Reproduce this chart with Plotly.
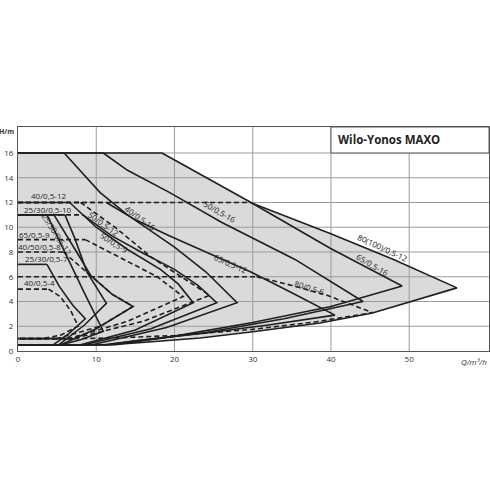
import plotly.graph_objects as go

x_ticks = [0, 10, 20, 30, 40, 50]
y_ticks = [0, 2, 4, 6, 8, 10, 12, 14, 16]
x_max = 60.2
y_max = 18.1
box_q = 40
box_h = 16

# each pump: max curve (from end of top line to tip), return curve (tip -> low end)
p25_7_q = [3.7, 5.3, 7.0, 8.6]
p25_7_h = [7.0, 5.2, 3.7, 2.6]
p25_7_rq = [8.6, 6.5, 4.5]
p25_7_rh = [2.6, 1.4, 0.5]

p40_4_q = [3.9, 5.4, 6.7, 7.7]
p40_4_h = [5.0, 4.4, 3.3, 2.0]
p40_4_rq = [7.7, 5.5, 3.2]
p40_4_rh = [2.0, 1.3, 1.0]

p25_10_q = [3.7, 4.9, 5.8, 8.4, 10.9]
p25_10_h = [11.0, 9.4, 8.2, 4.8, 1.6]
p25_10_rq = [10.9, 8.0, 5.5]
p25_10_rh = [1.6, 0.9, 0.5]

p25_12_q = [4.6, 6.0, 7.3, 9.3, 12.0, 14.7]
p25_12_h = [11.0, 9.6, 8.2, 6.1, 4.6, 3.6]
p25_12_rq = [14.7, 10.0, 5.5]
p25_12_rh = [3.6, 1.8, 0.5]

pD_q = [6.0, 7.2, 8.8, 11.3]
pD_h = [11.0, 9.2, 6.4, 3.85]
pD_rq = [11.3, 8.5, 5.2]
pD_rh = [3.85, 2.1, 0.5]

p40_8_q = [5.8, 7.6, 9.3, 12.0, 14.7]
p40_8_h = [8.0, 7.0, 6.1, 4.6, 3.6]
p40_8_rq = [14.7, 10.5, 5.0]
p40_8_rh = [3.6, 2.0, 1.0]

p50_9_q = [8.6, 12.0, 17.8, 21.1]
p50_9_h = [9.0, 7.9, 6.0, 4.4]
p50_9_rq = [21.1, 14.0, 6.5]
p50_9_rh = [4.4, 2.4, 1.0]

p40_12_q = [8.0, 12.4, 17.0, 21.1, 24.5]
p40_12_h = [12.0, 10.0, 7.6, 5.9, 4.5]
p40_12_rq = [24.5, 16.0, 7.0]
p40_12_rh = [4.5, 2.4, 1.0]

p50_12_q = [6.6, 10.0, 14.0, 18.2, 20.5, 22.4]
p50_12_h = [12.0, 10.0, 8.2, 6.6, 5.4, 3.9]
p50_12_rq = [22.4, 15.0, 8.0]
p50_12_rh = [3.9, 1.7, 0.5]

pX_q = [8.3, 12.0, 16.0, 20.0, 23.0, 25.4]
pX_h = [11.0, 9.3, 7.9, 6.6, 5.3, 3.9]
pX_rq = [25.4, 17.0, 8.5]
pX_rh = [3.9, 1.8, 0.5]

p40_16_q = [5.9, 8.2, 10.5, 14.0, 20.0, 24.0, 28.0]
p40_16_h = [16.0, 14.4, 12.8, 11.0, 8.4, 6.4, 3.9]
p40_16_rq = [28.0, 19.0, 9.5]
p40_16_rh = [3.9, 1.9, 0.5]

p65_12_q = [11.3, 15.0, 19.4, 29.7, 35.0, 40.5]
p65_12_h = [12.0, 10.6, 9.3, 6.4, 4.7, 2.9]
p65_12_rq = [40.5, 32.0, 24.0, 16.0, 11.0]
p65_12_rh = [2.9, 2.1, 1.45, 0.9, 0.5]

p50_16_q = [10.9, 14.0, 19.4, 26.0, 35.4, 44.1]
p50_16_h = [16.0, 14.6, 12.8, 10.4, 7.4, 4.0]
p50_16_rq = [44.1, 34.0, 24.0, 15.0, 11.5]
p50_16_rh = [4.0, 2.6, 1.5, 0.8, 0.5]

p65_16_q = [18.4, 29.5, 39.9, 49.1]
p65_16_h = [16.0, 12.1, 8.3, 5.25]
p65_16_rq = [49.1, 40.0, 30.0, 20.0, 12.5]
p65_16_rh = [5.25, 3.6, 2.3, 1.2, 0.5]

p80_100_q = [29.7, 39.9, 48.0, 56.1]
p80_100_h = [12.0, 9.5, 7.4, 5.1]
p80_100_rq = [56.1, 45.3, 38.6, 30.0, 23.3, 15.0, 11.5]
p80_100_rh = [5.1, 3.07, 2.26, 1.55, 1.05, 0.65, 0.5]

p80_6_q = [30.5, 35.0, 39.5, 42.5, 45.3]
p80_6_h = [6.0, 5.3, 4.5, 3.8, 3.1]
p80_6_rq = [45.3, 38.0, 30.0, 20.0, 12.0, 7.0]
p80_6_rh = [3.07, 2.35, 1.75, 1.25, 1.05, 1.0]

# (q, h, rq, rh, curve dashed, top dashed, bottom dashed)
pumps = [
    (p80_100_q, p80_100_h, p80_100_rq, p80_100_rh, False, True, False),
    (p65_16_q, p65_16_h, p65_16_rq, p65_16_rh, False, False, False),
    (p50_16_q, p50_16_h, p50_16_rq, p50_16_rh, False, False, False),
    (p80_6_q, p80_6_h, p80_6_rq, p80_6_rh, True, True, True),
    (p65_12_q, p65_12_h, p65_12_rq, p65_12_rh, False, True, False),
    (p40_16_q, p40_16_h, p40_16_rq, p40_16_rh, False, False, False),
    (pX_q, pX_h, pX_rq, pX_rh, False, True, False),
    (p50_12_q, p50_12_h, p50_12_rq, p50_12_rh, False, False, False),
    (p40_12_q, p40_12_h, p40_12_rq, p40_12_rh, True, True, True),
    (p50_9_q, p50_9_h, p50_9_rq, p50_9_rh, True, True, True),
    (p40_8_q, p40_8_h, p40_8_rq, p40_8_rh, True, True, True),
    (pD_q, pD_h, pD_rq, pD_rh, False, False, False),
    (p25_12_q, p25_12_h, p25_12_rq, p25_12_rh, False, False, False),
    (p25_10_q, p25_10_h, p25_10_rq, p25_10_rh, False, False, False),
    (p40_4_q, p40_4_h, p40_4_rq, p40_4_rh, True, True, True),
    (p25_7_q, p25_7_h, p25_7_rq, p25_7_rh, False, False, False),
]

labels = ["40/0,5-12", "25/30/0,5-10", "65/0,5-9", "40/50/0,5-8", "25/30/0,5-7", "40/0,5-4",
          "25/30/0,5-12", "50/0,5-12", "50/0,5-9", "40/0,5-16", "50/0,5-16", "65/0,5-12",
          "80/0,5-6", "80(100)/0,5-12", "65/0,5-16"]
label_q = [3.9, 3.8, 2.1, 2.8, 3.7, 2.7, 5.0, 10.9, 12.3, 15.6, 25.8, 27.2, 37.3, 46.6, 45.3]
label_h = [12.55, 11.45, 9.45, 8.45, 7.45, 5.5, 9.4, 10.3, 8.8, 10.8, 11.25, 7.05, 5.1, 8.4, 7.0]
label_angle = [0, 0, 0, 0, 0, 0, 57, 36, 32, 36, 30, 24, 17, 25, 30]

FILL = "#dadada"
INK = "#1f1f1f"
GRID = "#9c9c9c"
DASH = "5px,3px"

fig = go.Figure()

# gray operating areas
for q, h, rq, rh, cd, td, bd in pumps:
    pq = [0] + q + rq[1:] + [0]
    ph = [h[0]] + h + rh[1:] + [rh[-1]]
    fig.add_trace(go.Scatter(x=pq, y=ph, fill="toself", fillcolor=FILL, mode="lines",
                             line=dict(width=0, color=FILL), hoverinfo="skip", showlegend=False))

# grid lines above the fill
gx, gy = [], []
for xv in x_ticks[1:]:
    gx += [xv, xv, None]
    gy += [0, y_max, None]
for yv in y_ticks[1:]:
    gx += [0, x_max, None]
    gy += [yv, yv, None]
fig.add_trace(go.Scatter(x=gx, y=gy, mode="lines", line=dict(color=GRID, width=1),
                         hoverinfo="skip", showlegend=False))

def style(d):
    return dict(color=INK, width=1.6, dash=DASH if d else "solid")

for q, h, rq, rh, cd, td, bd in pumps:
    fig.add_trace(go.Scatter(x=[0, q[0]], y=[h[0], h[0]], mode="lines", line=style(td),
                             hoverinfo="skip", showlegend=False))
    fig.add_trace(go.Scatter(x=[rq[-1], 0], y=[rh[-1], rh[-1]], mode="lines", line=style(bd),
                             hoverinfo="skip", showlegend=False))
for q, h, rq, rh, cd, td, bd in pumps:
    fig.add_trace(go.Scatter(x=q + rq[1:], y=h + rh[1:], mode="lines", line=style(cd),
                             hoverinfo="skip", showlegend=False))

for t, xq, yh, a in zip(labels, label_q, label_h, label_angle):
    fig.add_annotation(x=xq, y=yh, text=t, showarrow=False, textangle=a,
                       font=dict(family="Open Sans", size=8, color="#222222"))

# title box
fig.add_shape(type="rect", xref="x", yref="y", x0=box_q, x1=x_max, y0=box_h, y1=y_max,
              line=dict(color="#555555", width=1), fillcolor="white", layer="above")
fig.add_annotation(x=box_q + 0.6, y=(box_h + y_max) / 2, text="<b>Wilo-Yonos MAXO</b>",
                   showarrow=False, xanchor="left",
                   font=dict(family="Open Sans", size=11.5, color="#222222"))

fig.add_annotation(xref="paper", yref="y", x=-0.004, y=17.75, xanchor="right", text="<b>H/m</b>",
                   showarrow=False, font=dict(family="Open Sans", size=7, color="#333333"))
fig.add_annotation(xref="paper", yref="paper", x=1.0, y=-0.012, xanchor="right", yanchor="top",
                   text="<i>Q/m³/h</i>", showarrow=False,
                   font=dict(family="Open Sans", size=8, color="#333333"))

fig.update_xaxes(range=[0, x_max], tickvals=x_ticks, showgrid=False, zeroline=False,
                 showline=True, mirror=True, linecolor="#555555", linewidth=1, ticks="",
                 automargin=False,
                 tickfont=dict(family="Open Sans", size=8, color="#333333"))
fig.update_yaxes(range=[0, y_max], tickvals=y_ticks, showgrid=False, zeroline=False,
                 showline=True, mirror=True, linecolor="#555555", linewidth=1, ticks="",
                 automargin=False, ticklabelstandoff=2,
                 tickfont=dict(family="Open Sans", size=8, color="#333333"))
fig.update_layout(width=490, height=490, margin=dict(l=18, r=1, t=127, b=139),
                  plot_bgcolor="white", paper_bgcolor="white", showlegend=False)

fig.write_html("out.html", config={"displayModeBar": False},
               post_script="document.body.style.margin='0';")
